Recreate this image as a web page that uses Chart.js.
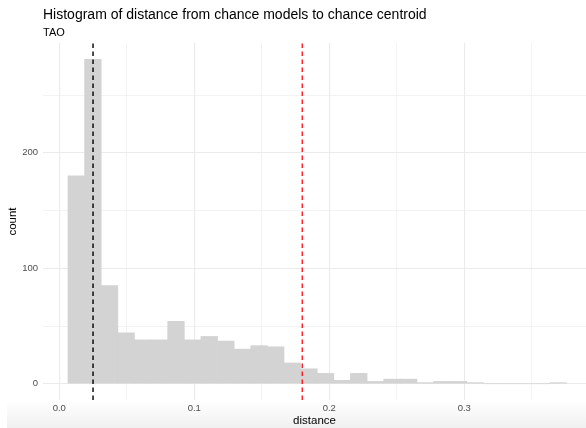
<!DOCTYPE html>
<html>
<head>
<meta charset="utf-8">
<script src="https://cdn.jsdelivr.net/npm/chart.js@4.4.1/dist/chart.umd.min.js"></script>
<style>
  html, body { margin: 0; padding: 0; background: #fff; }
  #wrap { position: relative; width: 586px; height: 428px; }
  #shade { position: absolute; left: 7px; right: 0; top: 400px; bottom: 0;
           background: linear-gradient(to bottom, rgba(0,0,0,0), rgba(0,0,0,0.06)); }
  canvas { position: absolute; left: 0; top: 0; }
</style>
</head>
<body>
<div id="wrap">
  <div id="shade"></div>
  <canvas id="hist" width="586" height="428"></canvas>
</div>
<script>
// bin centres (distance) and counts
const binMids = [0.01260, 0.02491, 0.03722, 0.04953, 0.06184, 0.07415, 0.08646, 0.09877,
                 0.11108, 0.12339, 0.13570, 0.14801, 0.16032, 0.17263, 0.18494, 0.19725,
                 0.20956, 0.22187, 0.23418, 0.24649, 0.25880, 0.27111, 0.28342, 0.29573,
                 0.30804, 0.32035, 0.33266, 0.34497, 0.35728, 0.36959];
const counts = [180, 281, 85, 44, 38, 38, 54, 38, 41, 37, 30, 33, 32, 18, 13,
                9, 3, 9, 2, 4, 4, 1, 2, 2, 1, 0, 0, 0, 0, 1];

// reference lines
const blackLine = 0.025;
const redLine = 0.18;

// axis ticks
const xTicks = [0, 0.05, 0.1, 0.15, 0.2, 0.25, 0.3, 0.35];
const xLabels = ["0.0", "", "0.1", "", "0.2", "", "0.3", ""];
const yTicks = [0, 50, 100, 150, 200, 250];
const yLabels = ["0", "", "100", "", "200", ""];

const xMin = -0.01207, xMax = 0.3902;
const yMin = -14.05, yMax = 295.05;

const font = "'Liberation Sans', Arial, sans-serif";

const vline = (x, color) => ({
    type: 'line',
    data: [{ x: x, y: yMin }, { x: x, y: yMax }],
    borderColor: color,
    borderWidth: 1.4,
    borderDash: [4.5, 3.5],
    pointRadius: 0,
    order: 1
});

// major grid lines a bit heavier than minor ones
const gridWidth = labels => c => (c.index !== undefined && labels[c.index] ? 1.1 : 0.6);

const ctx = document.getElementById("hist").getContext("2d");
new Chart(ctx, {
    type: 'bar',
    data: {
        datasets: [
            {
                type: 'bar',
                data: binMids.map((m, i) => ({ x: m, y: counts[i] })),
                backgroundColor: '#d3d3d3',
                borderWidth: 0,
                barPercentage: 1,
                categoryPercentage: 1,
                grouped: false,
                order: 2
            },
            vline(blackLine, '#000000'),
            vline(redLine, '#ff1a1a')
        ]
    },
    options: {
        responsive: false,
        animation: false,
        layout: { padding: { top: 5, left: 0, right: 0, bottom: 0 } },
        plugins: {
            legend: { display: false },
            tooltip: { enabled: false },
            title: {
                display: true,
                text: 'Histogram of distance from chance models to chance centroid',
                align: 'start',
                fullSize: false,
                color: '#000',
                font: { family: font, size: 14, weight: 'normal' },
                padding: { top: 2, bottom: 2 }
            },
            subtitle: {
                display: true,
                text: 'TAO',
                align: 'start',
                fullSize: false,
                color: '#000',
                font: { family: font, size: 11, weight: 'normal' },
                padding: { top: 1, bottom: 3 }
            }
        },
        scales: {
            x: {
                type: 'linear',
                min: xMin,
                max: xMax,
                offset: false,
                afterBuildTicks: s => { s.ticks = xTicks.map(v => ({ value: v })); },
                afterFit: s => { s.height = 28; },
                border: { display: false },
                grid: {
                    offset: false,
                    drawTicks: false,
                    color: '#ebebeb',
                    lineWidth: gridWidth(xLabels)
                },
                ticks: {
                    padding: 3,
                    color: '#4d4d4d',
                    font: { family: font, size: 9.5 },
                    maxRotation: 0,
                    autoSkip: false,
                    callback: (v, i) => xLabels[i]
                },
                title: {
                    display: true,
                    text: 'distance',
                    color: '#000',
                    font: { family: font, size: 11.5 },
                    padding: { top: 0, bottom: 0 }
                }
            },
            y: {
                type: 'linear',
                min: yMin,
                max: yMax,
                afterBuildTicks: s => { s.ticks = yTicks.map(v => ({ value: v })); },
                afterFit: s => { s.width = 43; },
                border: { display: false },
                grid: {
                    drawTicks: false,
                    color: '#ebebeb',
                    lineWidth: gridWidth(yLabels)
                },
                ticks: {
                    padding: 5,
                    color: '#4d4d4d',
                    font: { family: font, size: 9.5 },
                    autoSkip: false,
                    callback: (v, i) => yLabels[i]
                },
                title: {
                    display: true,
                    text: 'count',
                    color: '#000',
                    font: { family: font, size: 11.5 },
                    padding: { top: 6, bottom: 0 }
                }
            }
        }
    }
});
</script>
</body>
</html>
